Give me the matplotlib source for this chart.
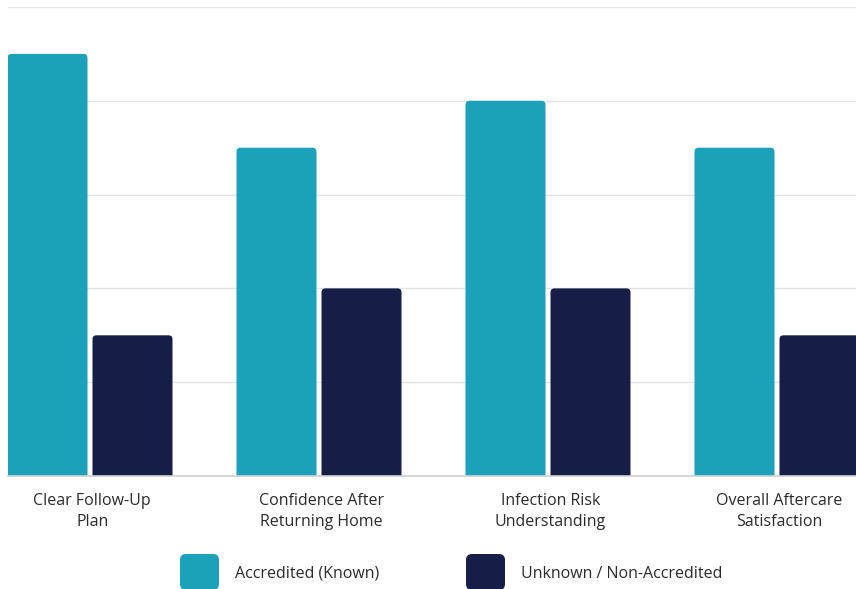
import matplotlib
matplotlib.use("Agg")
import matplotlib.pyplot as plt
from matplotlib.patches import FancyBboxPatch
import numpy as np

categories = ["Clear Follow-Up\nPlan", "Confidence After\nReturning Home",
              "Infection Risk\nUnderstanding", "Overall Aftercare\nSatisfaction"]
accredited = [4.5, 3.5, 4.0, 3.5]
non_accredited = [1.5, 2.0, 2.0, 1.5]
series_names = ["Accredited (Known)", "Unknown / Non-Accredited"]

TEAL = "#1BA1BA"
NAVY = "#161E48"
GRID = "#E3E3E3"
TEXT = "#2B2B2B"

plt.rcParams["font.family"] = ["Open Sans", "DejaVu Sans"]

W, H = 856, 589
fig = plt.figure(figsize=(W / 100, H / 100), dpi=100)
ax = fig.add_axes([8 / W, 113 / H, 1 - 8 / W, 469 / H])

# pixel geometry -> data units
px_x = 1 / 229.0
px_y = 1 / 93.8
bar_w = 80 * px_x
gap = 5 * px_x
x = np.arange(len(categories))
aspect = px_y / px_x


def rounded_bar(xc, h, color):
    r = 4 * px_x
    p = FancyBboxPatch((xc - bar_w / 2, -0.2), bar_w, h + 0.2,
                       boxstyle=f"round,pad=0,rounding_size={r}",
                       mutation_aspect=aspect, fc=color, ec="none",
                       zorder=3, clip_on=True)
    ax.add_patch(p)


for i in x:
    rounded_bar(i - (bar_w + gap) / 2, accredited[i], TEAL)
    rounded_bar(i + (bar_w + gap) / 2, non_accredited[i], NAVY)

ax.set_xlim(-82 * px_x, -82 * px_x + (W - 8) * px_x)
ax.set_ylim(0, 5)
ax.set_yticks([1, 2, 3, 4, 5])
ax.yaxis.grid(True, color=GRID, lw=1, zorder=0)
ax.set_yticklabels([])
ax.tick_params(axis="y", length=0)
for s in ["top", "right", "left"]:
    ax.spines[s].set_visible(False)
ax.spines["bottom"].set_color("#D0D0D0")
ax.spines["bottom"].set_linewidth(1.2)
ax.spines["bottom"].set_zorder(4)

ax.set_xticks(x + 0.01)
ax.set_xticklabels(categories, fontsize=11.5, color=TEXT, linespacing=1.4)
ax.tick_params(axis="x", length=0, pad=12.5)

# legend drawn in figure pixels
def legend_item(x0, color, label):
    sq = FancyBboxPatch((x0 / W, (H - 590) / H), 39 / W, 36 / H,
                        boxstyle=f"round,pad=0,rounding_size={6 / W}",
                        mutation_aspect=W / H, fc=color, ec="none",
                        transform=fig.transFigure)
    fig.add_artist(sq)
    fig.text((x0 + 55) / W, (H - 574) / H, label, fontsize=11.5, color=TEXT,
             va="center", ha="left")

legend_item(180, TEAL, series_names[0])
legend_item(466, NAVY, series_names[1])

fig.savefig("out.png", dpi=100)
